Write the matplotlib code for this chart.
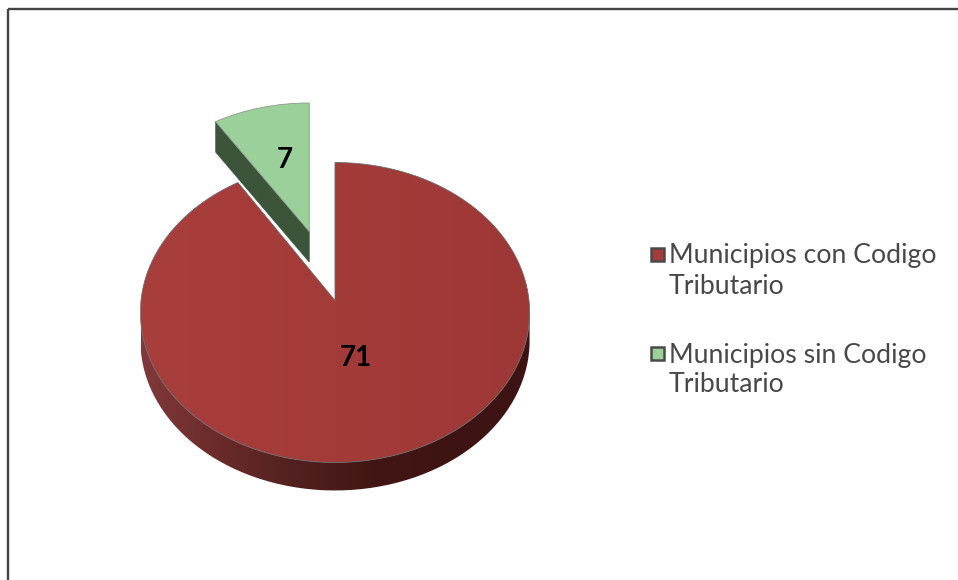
import numpy as np
import matplotlib
matplotlib.use("Agg")
import matplotlib.pyplot as plt
from matplotlib.colors import LinearSegmentedColormap as LSC
from matplotlib.patches import Rectangle, Polygon

categories = ["Municipios con Codigo\nTributario", "Municipios sin Codigo\nTributario"]
values = [71, 7]
top_colors = ["#A33B39", "#9BD09A"]

plt.rcParams["font.family"] = ["Lato", "DejaVu Sans"]
fig = plt.figure(figsize=(9.58, 5.8), dpi=100, facecolor="white")
ax = fig.add_axes([0, 0, 1, 1])

R = 200.0
wedges, _ = ax.pie(values, startangle=90, counterclock=False, radius=R, colors=top_colors)
for w in wedges:
    w.set_visible(False)
ax.set_aspect("auto")
ax.set_xlim(0, 958)
ax.set_ylim(580, 0)
ax.axis("off")

K = 0.08


def project(wedge, apex, sx, sy):
    """Perspective view of a pie wedge, returned as outline and rim points."""
    p = wedge.get_path().to_polygons(closed_only=True)[0] / R
    rim = np.hypot(p[:, 0], p[:, 1]) > 0.99
    d = 1 + K * p[:, 1]
    out = np.column_stack([apex[0] + sx * p[:, 0] / d, apex[1] - sy * p[:, 1] / d])
    return out, out[rim]


def shaded(poly, colours, zorder, x0, x1):
    patch = Polygon(poly, closed=True, fc="none", ec="none", zorder=zorder)
    ax.add_patch(patch)
    cmap = LSC.from_list("g", colours)
    im = ax.imshow(np.linspace(0, 1, 256)[None, :], cmap=cmap, aspect="auto",
                   extent=(x0, x1, 580, 0), zorder=zorder, interpolation="bilinear")
    im.set_clip_path(patch)
    ax.set_xlim(0, 958)
    ax.set_ylim(580, 0)


# exploded slice
g_apex = (309.3, 231.7)
g_out, g_rim = project(wedges[1], g_apex, 194 * 0.965, 149 * 0.933)
g_depth = 30.5
corner = g_rim[np.argmin(g_rim[:, 0])]
ax.add_patch(Polygon([corner, g_apex, (g_apex[0], g_apex[1] + g_depth),
                      (corner[0], corner[1] + g_depth)], closed=True,
                     fc="#3C543A", ec="#3C543A", lw=0.4, zorder=2))
ax.add_patch(Polygon(g_out, closed=True, fc=top_colors[1], ec="#8a9a89", lw=0.6, zorder=3))

# main slice
m_apex = (335.0, 300.5)
m_out, m_rim = project(wedges[0], m_apex, 194, 149)
m_depth = 28.0
front = m_rim[m_rim[:, 1] >= 312.5]
front = front[np.argsort(front[:, 0])]
wall = np.vstack([front, (front + [0, m_depth])[::-1]])
shaded(wall, ["#82383A", "#6A2B2A", "#522020", "#421614", "#3E1413", "#3D1413"], 4, 141, 530)
shaded(m_out, ["#A93F3D", "#A33B39", "#9E3836"], 5, 141, 530)
ax.add_patch(Polygon(m_out, closed=True, fc="none", ec="#6a6a6a", lw=0.6, zorder=6))

# value labels
ax.text(355.5, 358.5, str(values[0]), fontsize=20, fontweight="bold", color="black",
        ha="center", va="center", zorder=7)
ax.text(285, 159.5, str(values[1]), fontsize=20, fontweight="bold", color="black",
        ha="center", va="center", zorder=7)

# legend
for y, label, c in zip((255, 354), categories, top_colors):
    ax.add_patch(Rectangle((651, y - 7), 13, 13, fc=c, ec="#4a4a4a", lw=1.8, zorder=7))
    first, second = label.split("\n")
    ax.text(669, y + 1, first, fontsize=19.2, color="#484848", va="center", ha="left", zorder=7)
    ax.text(669, y + 31, second, fontsize=19.2, color="#484848", va="center", ha="left", zorder=7)

# outer frame
ax.add_patch(Rectangle((8, 9), 1200, 900, fc="none", ec="#444444", lw=1.7, zorder=8))

fig.savefig("out.png", dpi=100, facecolor="white")
